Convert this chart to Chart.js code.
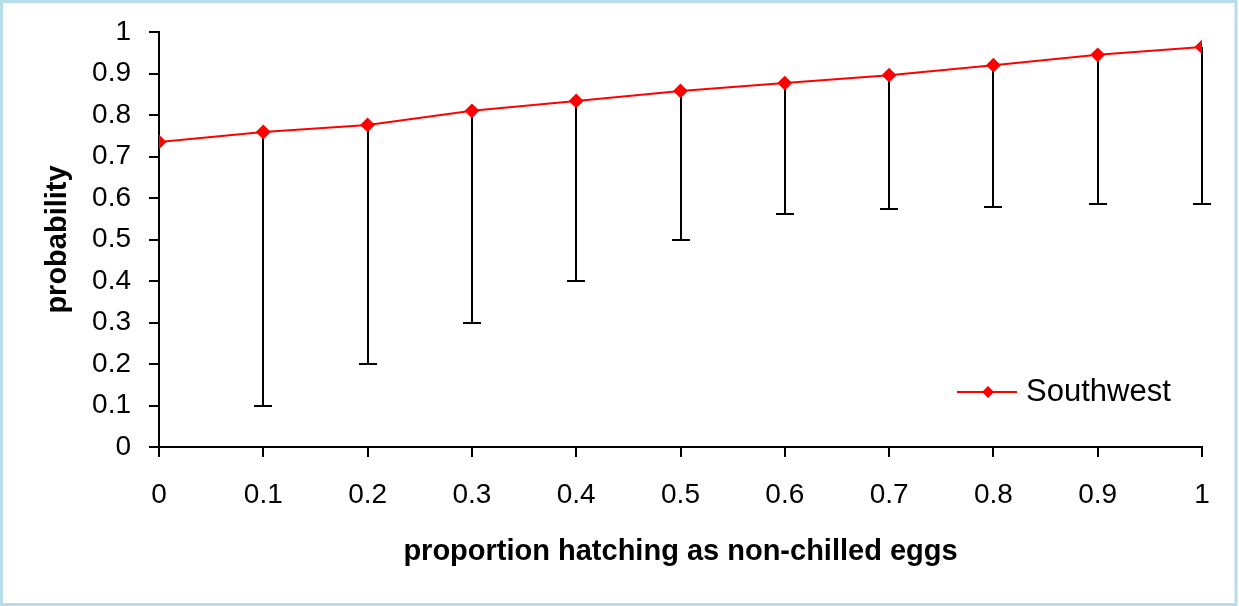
<!DOCTYPE html>
<html>
<head>
<meta charset="utf-8">
<script src="https://cdn.jsdelivr.net/npm/chart.js@4.4.0/dist/chart.umd.min.js"></script>
<style>
  html, body { margin: 0; padding: 0; background: #fff; }
  #wrap { width: 1239px; height: 606px; position: relative; }
</style>
</head>
<body>
<div id="wrap"><canvas id="chart" width="1239" height="606"></canvas></div>
<script>
// proportion hatching as non-chilled eggs
const xValues = [0, 0.1, 0.2, 0.3, 0.4, 0.5, 0.6, 0.7, 0.8, 0.9, 1];
// Southwest probability
const southwest = [0.735, 0.759, 0.776, 0.81, 0.834, 0.858, 0.877, 0.896, 0.92, 0.945, 0.964];
// lower end of the error bars
const lowerBound = [0.735, 0.1, 0.2, 0.3, 0.4, 0.5, 0.561, 0.573, 0.578, 0.586, 0.586];

const FONT = 'Liberation Sans, Arial, sans-serif';
const fmt = v => String(+(+v).toFixed(1));

const frame = {
    id: 'frame',
    beforeDraw(chart) {
        const ctx = chart.ctx;
        ctx.save();
        ctx.fillStyle = '#ffffff';
        ctx.fillRect(0, 0, chart.width, chart.height);
        ctx.strokeStyle = '#b9dde8';
        ctx.lineWidth = 3;
        ctx.strokeRect(1.5, 1.5, chart.width - 4.5, chart.height - 3);
        ctx.restore();
    }
};

// draw the error bars down to the lower bound
const errorBars = {
    id: 'errorBars',
    beforeDatasetsDraw(chart) {
        const ctx = chart.ctx;
        const xs = chart.scales.x, ys = chart.scales.y;
        ctx.save();
        ctx.strokeStyle = '#000';
        ctx.lineWidth = 2;
        xValues.forEach((xv, i) => {
            const lo = lowerBound[i];
            if (lo >= southwest[i]) return;
            const px = Math.round(xs.getPixelForValue(xv));
            const top = ys.getPixelForValue(southwest[i]);
            const bot = Math.round(ys.getPixelForValue(lo));
            ctx.beginPath();
            ctx.moveTo(px, top);
            ctx.lineTo(px, bot);
            ctx.moveTo(px - 9, bot);
            ctx.lineTo(px + 9, bot);
            ctx.stroke();
        });
        ctx.restore();
    }
};

// legend drawn inside the plot, lower right
const legendBox = {
    id: 'legendBox',
    afterDraw(chart) {
        const ctx = chart.ctx;
        const y = 392;
        ctx.save();
        ctx.strokeStyle = 'red';
        ctx.lineWidth = 2;
        ctx.beginPath();
        ctx.moveTo(957, y);
        ctx.lineTo(1017, y);
        ctx.stroke();
        ctx.fillStyle = 'red';
        ctx.beginPath();
        ctx.moveTo(988, y - 6);
        ctx.lineTo(994, y);
        ctx.lineTo(988, y + 6);
        ctx.lineTo(982, y);
        ctx.closePath();
        ctx.fill();
        ctx.fillStyle = '#000';
        ctx.font = '31px ' + FONT;
        ctx.textBaseline = 'middle';
        ctx.fillText(chart.data.datasets[0].label, 1026, y);
        ctx.restore();
    }
};

new Chart(document.getElementById('chart'), {
    type: 'line',
    data: {
        datasets: [{
            label: 'Southwest',
            data: xValues.map((x, i) => ({ x: x, y: southwest[i] })),
            borderColor: 'red',
            backgroundColor: 'red',
            borderWidth: 2,
            pointStyle: 'rectRot',
            pointRadius: 6,
            tension: 0
        }]
    },
    options: {
        responsive: false,
        animation: false,
        layout: { padding: { left: 0, top: 32, right: 37, bottom: 0 } },
        plugins: { legend: { display: false }, tooltip: { enabled: false } },
        scales: {
            x: {
                type: 'linear',
                min: 0,
                max: 1,
                afterFit(s) { s.height = 159; s.paddingLeft = 0; s.paddingRight = 0; },
                border: { color: '#000', width: 2 },
                grid: { drawOnChartArea: false, drawTicks: true, tickLength: 10, color: '#000', lineWidth: 2 },
                ticks: { stepSize: 0.1, color: '#000', font: { family: FONT, size: 28 }, padding: 21, maxRotation: 0,
                         callback: fmt },
                title: { display: true, text: 'proportion hatching as non-chilled eggs', color: '#000',
                         font: { family: FONT, size: 29, weight: 'bold' }, padding: { top: 0, bottom: 37 } }
            },
            y: {
                min: 0,
                max: 1,
                afterFit(s) { s.width = 159; s.paddingTop = 0; s.paddingBottom = 0; },
                border: { color: '#000', width: 2 },
                grid: { drawOnChartArea: false, drawTicks: true, tickLength: 10, color: '#000', lineWidth: 2 },
                ticks: { stepSize: 0.1, color: '#000', font: { family: FONT, size: 28 }, padding: 18,
                         callback: fmt },
                title: { display: true, text: 'probability', color: '#000',
                         font: { family: FONT, size: 29, weight: 'bold' }, padding: { top: 41, bottom: 0 } }
            }
        }
    },
    plugins: [frame, errorBars, legendBox]
});
</script>
</body>
</html>
